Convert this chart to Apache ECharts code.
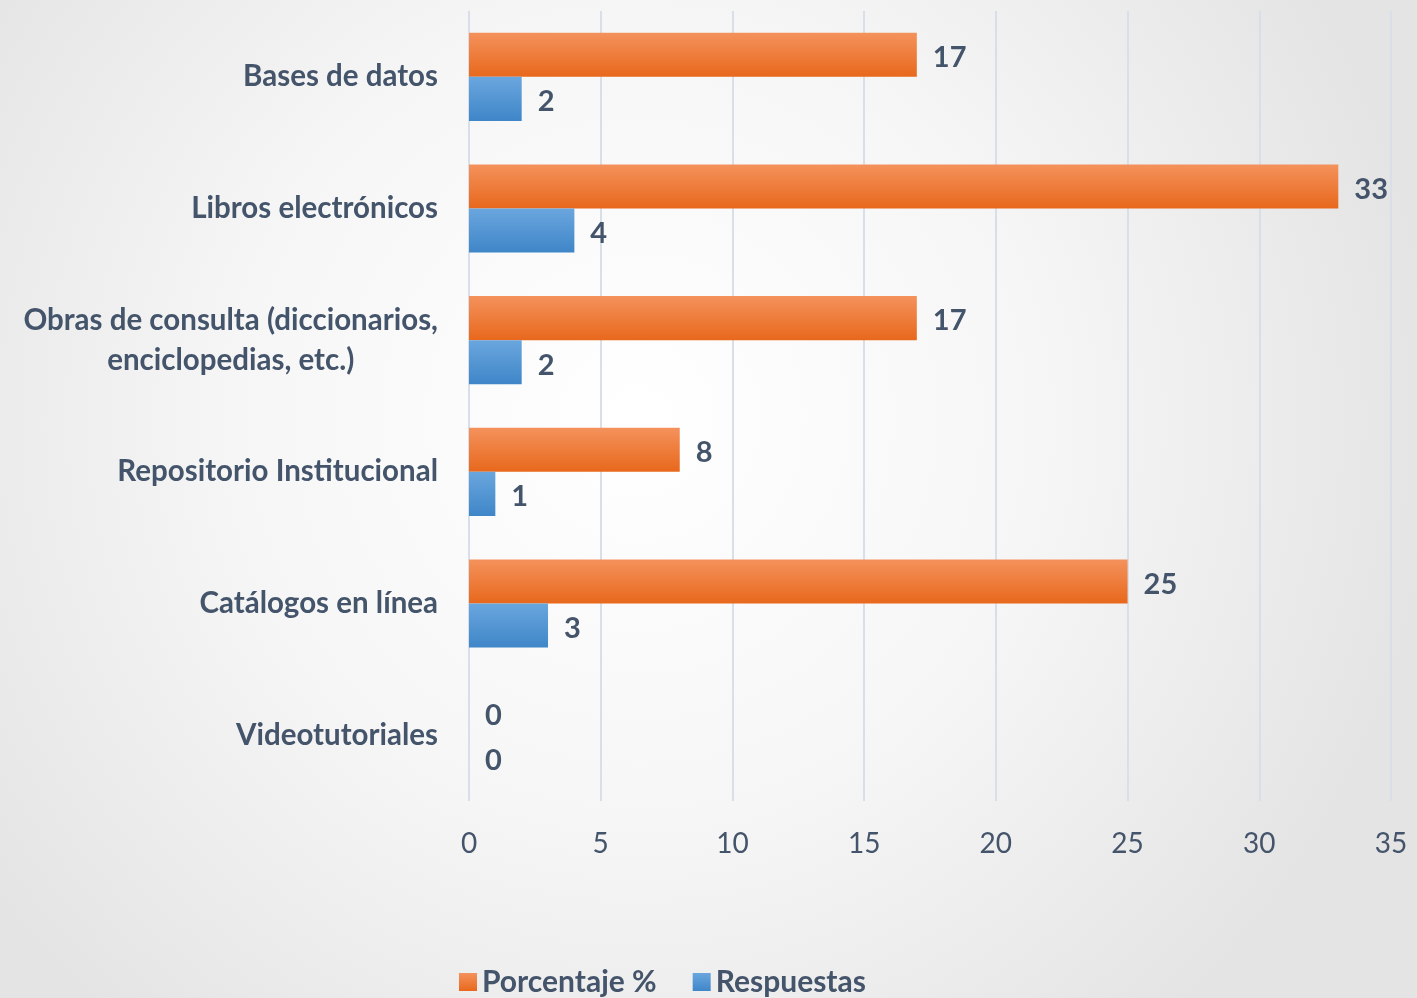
<!DOCTYPE html>
<html>
<head>
<meta charset="utf-8">
<script src="https://cdn.jsdelivr.net/npm/echarts@6/dist/echarts.min.js"></script>
<style>
  html, body { margin: 0; padding: 0; }
  #chart { width: 1417px; height: 998px; }
</style>
</head>
<body>
<div id="chart"></div>
<script>
let categories = ['Bases de datos', 'Libros electrónicos', 'Obras de consulta (diccionarios,\nenciclopedias, etc.)', 'Repositorio Institucional', 'Catálogos en línea', 'Videotutoriales']
let porcentaje = [17, 33, 17, 8, 25, 0]
let respuestas = [2, 4, 2, 1, 3, 0]
let xTicks = [0, 35, 5]  // min, max, interval

let textColor = '#44546a'
let font = 'Lato'

function grad(top, bottom) {
  return new echarts.graphic.LinearGradient(0, 0, 0, 1, [
    { offset: 0, color: top },
    { offset: 1, color: bottom }
  ])
}

let myChart = echarts.init(document.getElementById('chart'))
let option = {
  backgroundColor: new echarts.graphic.RadialGradient(0.45, 0.42, 0.8, [
    { offset: 0, color: '#ffffff' },
    { offset: 0.5, color: '#f6f6f6' },
    { offset: 1, color: '#e4e4e4' }
  ]),
  animation: false,
  textStyle: { fontFamily: font },
  legend: {
    top: 962,
    left: 454,
    itemWidth: 18,
    itemHeight: 18,
    itemGap: 36,
    icon: 'rect',
    textStyle: { color: textColor, fontSize: 30, fontWeight: 'bold', fontFamily: font }
  },
  grid: { left: 469, right: 26, top: 11, bottom: 197, containLabel: false },
  xAxis: {
    type: 'value',
    min: xTicks[0],
    max: xTicks[1],
    interval: xTicks[2],
    axisLine: { show: false },
    axisTick: { show: false },
    axisLabel: { color: textColor, fontSize: 28, margin: 29, fontFamily: font },
    splitLine: { lineStyle: { color: '#d9dfe8', width: 2 } }
  },
  yAxis: {
    type: 'category',
    data: categories,
    inverse: true,
    axisLine: { show: false },
    axisTick: { show: false },
    axisLabel: {
      margin: 31,
      formatter: v => v.split('\n').map(s => '{c|' + s + '}').join('\n'),
      rich: {
        c: { color: textColor, fontSize: 29.5, fontWeight: 'bold', fontFamily: font, align: 'center', lineHeight: 40 }
      }
    }
  },
  series: [
    {
      name: 'Porcentaje %',
      type: 'bar',
      data: porcentaje,
      barGap: '0%',
      barCategoryGap: '33%',
      itemStyle: { color: grad('#f4925c', '#e8681c') },
      label: { show: true, position: 'right', distance: 16, offset: [0, 3], color: textColor, fontSize: 29, fontWeight: 'bold', fontFamily: font }
    },
    {
      name: 'Respuestas',
      type: 'bar',
      data: respuestas,
      barGap: '0%',
      barCategoryGap: '33%',
      itemStyle: { color: grad('#6aa6de', '#3f86c8') },
      label: { show: true, position: 'right', distance: 16, offset: [0, 3], color: textColor, fontSize: 29, fontWeight: 'bold', fontFamily: font }
    }
  ]
}
myChart.setOption(option)
</script>
</body>
</html>
